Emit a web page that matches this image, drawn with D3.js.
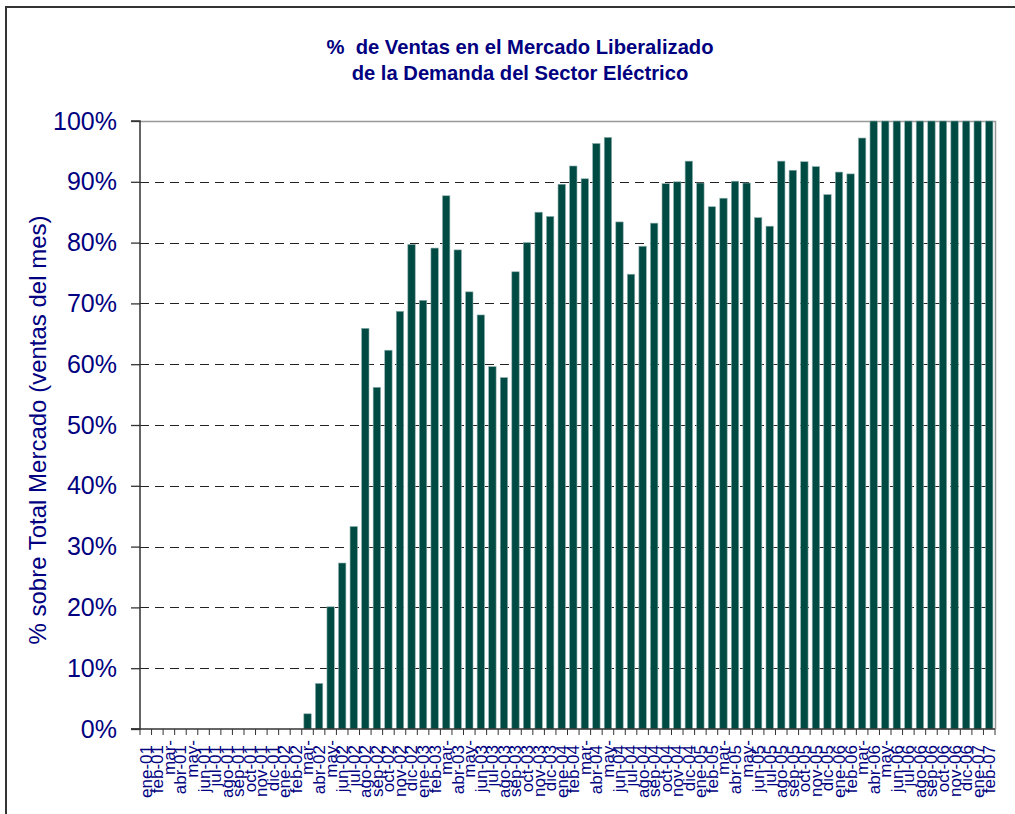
<!DOCTYPE html>
<html>
<head>
<meta charset="utf-8">
<script src="https://cdn.jsdelivr.net/npm/d3@7"></script>
<style>
  html, body { margin: 0; padding: 0; background: #fff; overflow: hidden; }
  svg { display: block; font-family: Arial, "Liberation Sans", sans-serif; }
  .title { white-space: pre; }
</style>
</head>
<body>
<svg id="chart" width="1015" height="814"></svg>
<script>
// Monthly categories (ene-01 .. feb-07) as printed under the axis
const months = [
  "ene-01","feb-01","mar-","abr-01","may-","jun-01","jul-01","ago-01","sep-01","oct-01","nov-01","dic-01",
  "ene-02","feb-02","mar-","abr-02","may-","jun-02","jul-02","ago-02","sep-02","oct-02","nov-02","dic-02",
  "ene-03","feb-03","mar-","abr-03","may-","jun-03","jul-03","ago-03","sep-03","oct-03","nov-03","dic-03",
  "ene-04","feb-04","mar-","abr-04","may-","jun-04","jul-04","ago-04","sep-04","oct-04","nov-04","dic-04",
  "ene-05","feb-05","mar-","abr-05","may-","jun-05","jul-05","ago-05","sep-05","oct-05","nov-05","dic-05",
  "ene-06","feb-06","mar-","abr-06","may-","jun-06","jul-06","ago-06","sep-06","oct-06","nov-06","dic-06",
  "ene-07","feb-07"
];

// % of monthly sales in the liberalised market
const share = [
  0, 0, 0, 0, 0, 0, 0, 0, 0, 0, 0, 0,
  0, 0, 2.5, 7.5, 20.1, 27.3, 33.3, 65.9, 56.2, 62.3, 68.7, 79.7,
  70.5, 79.1, 87.7, 78.8, 71.9, 68.1, 59.6, 57.8, 75.2, 80.0, 85.0, 84.3,
  89.6, 92.6, 90.5, 96.3, 97.3, 83.4, 74.8, 79.4, 83.2, 89.7, 90.0, 93.4,
  89.8, 85.9, 87.3, 90.1, 89.8, 84.1, 82.7, 93.4, 91.9, 93.3, 92.5, 87.9,
  91.6, 91.3, 97.2, 100, 100, 100, 100, 100, 100, 100, 100, 100,
  100, 100
];

const yTicks = [0, 10, 20, 30, 40, 50, 60, 70, 80, 90, 100];

const titleLines = ["%  de Ventas en el Mercado Liberalizado", "de la Demanda del Sector Eléctrico"];
const yTitle = "% sobre Total Mercado (ventas del mes)";

const navy = "#000080";
const barFill = "#004a44";

const svg = d3.select("#chart");
const plotLeft = 140, plotRight = 995, plotTop = 121, plotBottom = 729;

// index-based band scale so repeated labels stay distinct
const x = d3.scaleBand()
  .domain(d3.range(months.length))
  .range([plotLeft, plotRight])
  .paddingInner(0.36)
  .paddingOuter(0.18);

const y = d3.scaleLinear().domain([0, 100]).range([plotBottom, plotTop]);

// outer frame
svg.append("rect")
  .attr("x", 6).attr("y", 7)
  .attr("width", 1100).attr("height", 900)
  .attr("fill", "none").attr("stroke", "#333").attr("stroke-width", 2);

// title
svg.append("g").selectAll("text")
  .data(titleLines).join("text")
  .attr("class", "title")
  .attr("x", 520)
  .attr("y", (d, i) => 54 + i * 26)
  .attr("text-anchor", "middle")
  .attr("fill", navy)
  .attr("font-weight", "bold")
  .attr("font-size", 20.2)
  .text(d => d);

// dashed gridlines
svg.append("g").selectAll("line")
  .data(yTicks.filter(t => t > 0 && t < 100)).join("line")
  .attr("x1", plotLeft).attr("x2", plotRight)
  .attr("y1", d => Math.round(y(d)) + 0.5).attr("y2", d => Math.round(y(d)) + 0.5)
  .attr("stroke", "#222").attr("stroke-width", 1)
  .attr("stroke-dasharray", "9,6");

// plot-area border on top and right
svg.append("path")
  .attr("d", `M${plotLeft},${plotTop + 0.5}H${plotRight + 0.5}V${plotBottom}`)
  .attr("fill", "none").attr("stroke", "#999").attr("stroke-width", 1.5);

// bars
svg.append("g").selectAll("rect")
  .data(share).join("rect")
  .attr("x", (d, i) => x(i))
  .attr("width", x.bandwidth())
  .attr("y", d => y(d))
  .attr("height", d => y(0) - y(d))
  .attr("fill", barFill)
  .attr("stroke", "#8fb0ac")
  .attr("stroke-width", 0.6);

// y axis
const yAxis = svg.append("g")
  .attr("transform", `translate(${plotLeft},0)`)
  .call(d3.axisLeft(y).tickValues(yTicks).tickFormat(d => d + "%").tickSize(9).tickPadding(14));
yAxis.select(".domain").attr("stroke", "#333").attr("stroke-width", 1.5).attr("d", `M-9,${plotTop}H0V${plotBottom}H-9`);
yAxis.selectAll(".tick line").attr("stroke", "#333").attr("stroke-width", 1.3);
yAxis.selectAll(".tick text")
  .attr("fill", navy)
  .attr("font-size", 25)
  .attr("font-family", "Arial, 'Liberation Sans', sans-serif");

// x axis line and boundary ticks
const step = x.step();
const gap = step - x.bandwidth();
const boundaries = d3.range(months.length + 1).map(i => i < months.length ? x(i) - gap / 2 : x(months.length - 1) + x.bandwidth() + gap / 2);
const xAxis = svg.append("g");
xAxis.append("line")
  .attr("x1", plotLeft - 9).attr("x2", plotRight)
  .attr("y1", plotBottom).attr("y2", plotBottom)
  .attr("stroke", "#333").attr("stroke-width", 1.5);
xAxis.selectAll("line.tick").data(boundaries).join("line")
  .attr("class", "tick")
  .attr("x1", d => d).attr("x2", d => d)
  .attr("y1", plotBottom).attr("y2", plotBottom + 6)
  .attr("stroke", "#333").attr("stroke-width", 1);

// rotated month labels
xAxis.selectAll("text").data(months).join("text")
  .attr("transform", (d, i) => `translate(${x(i) + x.bandwidth() / 2},${d.length < 5 ? 740 : 745}) rotate(-90)`)
  .attr("text-anchor", "end")
  .attr("dy", "0.35em")
  .attr("fill", navy)
  .attr("font-size", 17)
  .text(d => d);

// y axis title
svg.append("text")
  .attr("transform", `translate(38,${(plotTop + plotBottom) / 2 + 5}) rotate(-90)`)
  .attr("text-anchor", "middle")
  .attr("dy", "0.35em")
  .attr("fill", navy)
  .attr("font-size", 24)
  .text(yTitle);
</script>
</body>
</html>
